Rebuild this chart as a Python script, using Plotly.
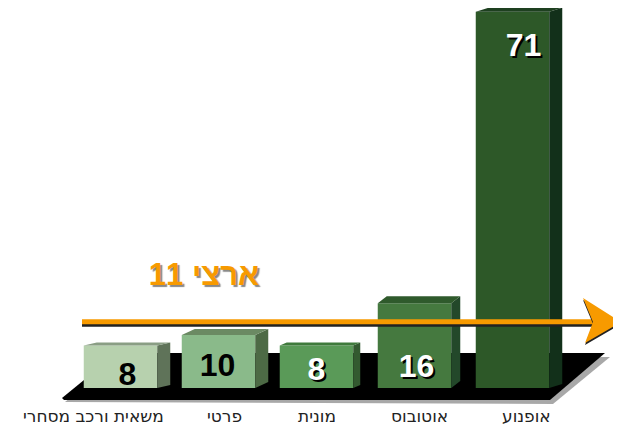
import plotly.graph_objects as go

categories = ["אופנוע", "אוטובוס", "מונית", "פרטי", "משאית ורכב מסחרי"][::-1]
values = [8, 10, 8, 16, 71]
national_label = "ארצי 11"
arrow_level = 12.5  # where the arrow sits in the picture

bar_colors = ["#b7d1ae", "#8aba8a", "#5a9a58", "#45793f", "#2d5828"]
side_colors = ["#5f7359", "#4d6a45", "#335a30", "#23482a", "#12301a"]
top_colors = ["#8a9e84", "#6b8a63", "#3f7a3c", "#2f5a2c", "#1e4020"]
depth_x = [13, 13, 7, 9, 13]
depth_y = [3, 6, 3, 7, 4]
label_shift = [-27, 6, 0, 5, 14]
value_shift = [7, -1, 0, 2, 11]
value_drop = [31, 33, 26, 66, 36]
value_colors = ["black", "black", "white", "white", "white"]

# the page body adds an 8px margin, so the figure covers 8..621 and 8..430
WIDTH, HEIGHT = 621, 430
PAGE = 8
X0, X_STEP = 120.5, 98
Y0, Y_STEP = 388, 5.3


def px_x(p):
    return (p - X0) / X_STEP


def px_y(p):
    return (Y0 - p) / Y_STEP


def path(points):
    return "M" + " L".join(f"{px_x(a)},{px_y(b)}" for a, b in points) + " Z"


fig = go.Figure()
xs = list(range(len(categories)))
half = 0.375

# bars
fig.add_trace(go.Bar(x=xs, y=values, width=0.75,
                     marker=dict(color=bar_colors, line_width=0), hoverinfo="skip"))

# side and top faces of each bar
for i, v in enumerate(values):
    dx = depth_x[i] / X_STEP
    dy = depth_y[i] / Y_STEP
    l, r = i - half, i + half
    fig.add_trace(go.Scatter(
        x=[r, r + dx, r + dx, r, r], y=[0, dy, v + dy, v, 0],
        mode="lines", fill="toself", fillcolor=side_colors[i], line_width=0, hoverinfo="skip",
    ))
    fig.add_trace(go.Scatter(
        x=[l, l + dx, r + dx, r, l], y=[v, v + dy, v + dy, v, v],
        mode="lines", fill="toself", fillcolor=top_colors[i], line_width=0, hoverinfo="skip",
    ))

# national average arrow
line_x = [px_x(82), px_x(594)]
fig.add_trace(go.Scatter(x=line_x, y=[arrow_level - 0.4] * 2, mode="lines",
                         line=dict(color="#222222", width=6), hoverinfo="skip"))
fig.add_trace(go.Scatter(x=line_x, y=[arrow_level] * 2, mode="lines",
                         line=dict(color="#f79a00", width=5), hoverinfo="skip"))
head_x = [583, 621, 585, 593, 583]
head_y = [298, 322, 343, 322, 298]
fig.add_trace(go.Scatter(x=[px_x(p) for p in head_x], y=[px_y(p + 2) for p in head_y], cliponaxis=False,
                         mode="lines", fill="toself", fillcolor="#222222", line_width=0, hoverinfo="skip"))
fig.add_trace(go.Scatter(x=[px_x(p) for p in head_x], y=[px_y(p) for p in head_y], cliponaxis=False,
                         mode="lines", fill="toself", fillcolor="#f79a00", line_width=0, hoverinfo="skip"))

# floor under the bars
shapes = [
    dict(type="path", layer="below", line_width=0, fillcolor="#a8a8a8",
         path=path([(65, 402), (553, 404), (610, 357), (120, 357)])),
    dict(type="path", layer="below", line_width=0, fillcolor="black",
         path=path([(62, 398), (64, 400), (550, 400), (605, 353), (117, 353)])),
]

# value labels, white ones get a hard black shadow
for i, v in enumerate(values):
    fig.add_trace(go.Scatter(
        x=[i + value_shift[i] / X_STEP], y=[v - value_drop[i] / Y_STEP],
        text=[str(v)], mode="text", textposition="middle center", hoverinfo="skip",
        textfont=dict(family="Liberation Sans", size=32, weight="bold", color=value_colors[i],
                      shadow="2px 2px 0px black" if value_colors[i] == "white" else "none"),
    ))

fig.add_trace(go.Scatter(
    x=[px_x(204)], y=[px_y(277)], text=[national_label], mode="text",
    textposition="middle center", hoverinfo="skip",
    textfont=dict(family="Liberation Sans", size=31, weight="bold", color="#f79a00",
                  shadow="2px 2px 1px #888888"),
))

annotations = []
for i, v in enumerate(values):
    annotations.append(dict(
        x=i, y=px_y(416), text=categories[i], showarrow=False, xshift=label_shift[i],
        font=dict(family="DejaVu Sans", size=17, color="#222222"),
    ))

fig.update_layout(
    width=WIDTH - PAGE, height=HEIGHT - PAGE,
    margin=dict(l=0, r=0, t=0, b=0),
    paper_bgcolor="white", plot_bgcolor="white",
    showlegend=False,
    xaxis=dict(range=[px_x(PAGE), px_x(WIDTH)], visible=False),
    yaxis=dict(range=[px_y(HEIGHT), px_y(PAGE)], visible=False),
    shapes=shapes,
    annotations=annotations,
)
# div shorter than the figure so the page's bottom margin does not cause a scrollbar
fig.write_html("out.html", default_width=WIDTH - PAGE, default_height=HEIGHT - 2 * PAGE)
